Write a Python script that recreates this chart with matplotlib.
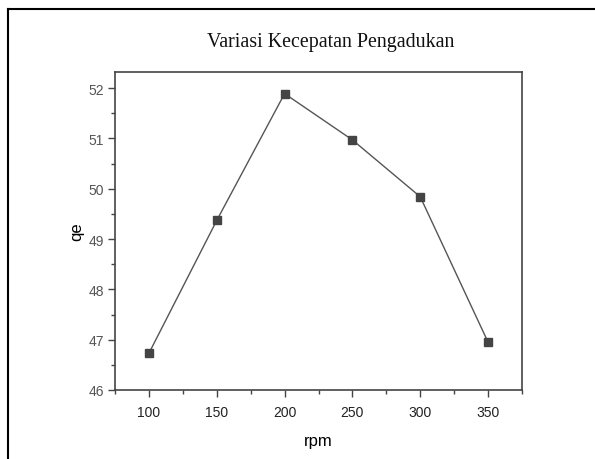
import matplotlib
matplotlib.use("Agg")
import matplotlib.pyplot as plt
from matplotlib.lines import Line2D
from matplotlib.ticker import MultipleLocator

rpm = [100, 150, 200, 250, 300, 350]
qe = [46.73, 49.37, 51.89, 50.97, 49.84, 46.95]
title = "Variasi Kecepatan Pengadukan"
xlabel = "rpm"
ylabel = "qe"

W, H = 595, 460
fig = plt.figure(figsize=(W/100, H/100), dpi=100)
ax = fig.add_axes([115/W, 1-391/H, (522-115)/W, (391-73)/H])

ax.plot(rpm, qe, color="#555555", lw=1.0, marker="s", ms=5.5,
        mfc="#444444", mec="#444444")
ax.set_xlim(75, 375)
ax.set_ylim(46, 52.32)
ax.xaxis.set_major_locator(MultipleLocator(50))
ax.xaxis.set_minor_locator(MultipleLocator(25))
ax.yaxis.set_major_locator(MultipleLocator(1))
ax.yaxis.set_minor_locator(MultipleLocator(0.5))
for s in ax.spines.values():
    s.set_linewidth(1.2)
    s.set_color("#444444")
ax.tick_params(which="major", direction="out", length=5, width=1, color="#444444",
               labelsize=10, pad=3)
ax.tick_params(which="minor", direction="out", length=3, width=1, color="#444444")
ax.tick_params(axis="x", labelcolor="#222222", pad=6)
ax.tick_params(axis="y", labelcolor="#555555", pad=3)
for lbl in ax.get_xticklabels() + ax.get_yticklabels():
    lbl.set_fontfamily("Liberation Sans")
ax.set_xlabel(xlabel, family="Liberation Sans", fontsize=12, labelpad=10)
ax.set_ylabel(ylabel, family="Liberation Sans", fontsize=12, labelpad=3)

fig.text(331/W, 1-42/H, title, family="Liberation Serif", fontsize=14.4,
         ha="center", va="center", color="#111111")

# outer frame (left and top only visible)
fig.add_artist(Line2D([8/W, 8/W], [0, 1-10/H], transform=fig.transFigure, color="black", lw=1.5))
fig.add_artist(Line2D([8/W, 1], [1-10/H, 1-10/H], transform=fig.transFigure, color="black", lw=1.5))

fig.savefig("out.png", dpi=100)
